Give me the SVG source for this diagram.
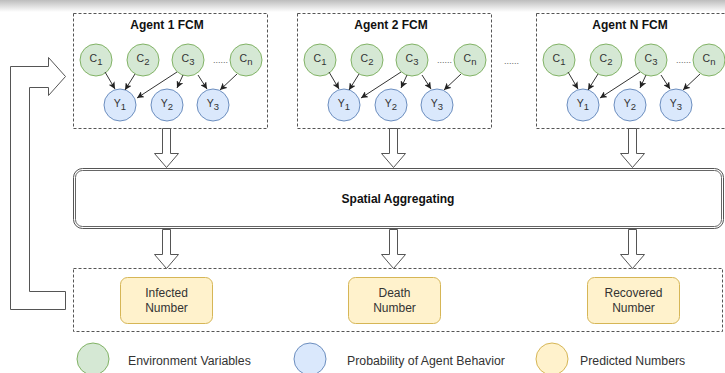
<svg xmlns="http://www.w3.org/2000/svg" width="725" height="373" viewBox="0 0 725 373">
  <defs>
    <linearGradient id="topShade" x1="0" y1="0" x2="0" y2="1">
      <stop offset="0" stop-color="#bdbdbd"/>
      <stop offset="1" stop-color="#ffffff"/>
    </linearGradient>
    <marker id="ah" viewBox="0 0 8 8" refX="8" refY="4" markerWidth="7" markerHeight="7" markerUnits="userSpaceOnUse" orient="auto">
      <path d="M0,0 L8,4 L0,8 L2,4 Z" fill="#222"/>
    </marker>
    <style>
      .dash { fill: none; stroke: #555; stroke-width: 1; stroke-dasharray: 3 2; }
      .env { fill: #d5e8d4; stroke: #82b366; stroke-width: 1; }
      .prob { fill: #dae8fc; stroke: #6c8ebf; stroke-width: 1; }
      .pred { fill: #fff2cc; stroke: #d6b656; stroke-width: 1; }
      .lbl { font-family: "Liberation Sans", Arial, sans-serif; font-size: 10.5px; fill: #333; text-anchor: middle; }
      .sub { font-size: 9.5px; }
      .title { font-family: "Liberation Sans", Arial, sans-serif; font-size: 12px; font-weight: bold; fill: #111; text-anchor: middle; }
      .txt { font-family: "Liberation Sans", Arial, sans-serif; font-size: 12px; fill: #333; text-anchor: middle; }
      .leg { font-family: "Liberation Sans", Arial, sans-serif; font-size: 12.3px; fill: #333; }
      .dots { font-family: "Liberation Sans", Arial, sans-serif; font-size: 9px; fill: #666; }
      .link { fill: none; stroke: #333; stroke-width: 1; marker-end: url(#ah); }
      .block { fill: #fff; stroke: #555; stroke-width: 1; }
    </style>
  </defs>

  <rect x="0" y="0" width="725" height="373" fill="#fff"/>
  <rect x="0" y="0" width="725" height="12" fill="url(#topShade)"/>

  <!-- Agent containers -->
  <g id="agent1">
    <rect class="dash" x="73.5" y="13.5" width="194" height="115"/>
    <text class="title" x="167" y="29">Agent 1 FCM</text>
    <g id="a1-c1"><circle class="env" cx="96" cy="60" r="16"/><text class="lbl" x="96" y="62">C<tspan class="sub" dy="3">1</tspan></text></g>
    <g id="a1-c2"><circle class="env" cx="143" cy="60" r="16"/><text class="lbl" x="143" y="62">C<tspan class="sub" dy="3">2</tspan></text></g>
    <g id="a1-c3"><circle class="env" cx="188" cy="60" r="16"/><text class="lbl" x="188" y="62">C<tspan class="sub" dy="3">3</tspan></text></g>
    <text class="dots" x="213" y="63">......</text>
    <g id="a1-cn"><circle class="env" cx="246" cy="60" r="16"/><text class="lbl" x="246" y="62">C<tspan class="sub" dy="3">n</tspan></text></g>
    <g id="a1-y1"><circle class="prob" cx="120" cy="105" r="16"/><text class="lbl" x="120" y="107">Y<tspan class="sub" dy="3">1</tspan></text></g>
    <g id="a1-y2"><circle class="prob" cx="167" cy="105" r="16"/><text class="lbl" x="167" y="107">Y<tspan class="sub" dy="3">2</tspan></text></g>
    <g id="a1-y3"><circle class="prob" cx="213" cy="105" r="16"/><text class="lbl" x="213" y="107">Y<tspan class="sub" dy="3">3</tspan></text></g>
  </g>

  <g id="agent2" transform="translate(224,0)">
    <rect class="dash" x="73.5" y="13.5" width="194" height="115"/>
    <text class="title" x="167" y="29">Agent 2 FCM</text>
    <g id="a2-c1"><circle class="env" cx="96" cy="60" r="16"/><text class="lbl" x="96" y="62">C<tspan class="sub" dy="3">1</tspan></text></g>
    <g id="a2-c2"><circle class="env" cx="143" cy="60" r="16"/><text class="lbl" x="143" y="62">C<tspan class="sub" dy="3">2</tspan></text></g>
    <g id="a2-c3"><circle class="env" cx="188" cy="60" r="16"/><text class="lbl" x="188" y="62">C<tspan class="sub" dy="3">3</tspan></text></g>
    <text class="dots" x="213" y="63">......</text>
    <g id="a2-cn"><circle class="env" cx="246" cy="60" r="16"/><text class="lbl" x="246" y="62">C<tspan class="sub" dy="3">n</tspan></text></g>
    <g id="a2-y1"><circle class="prob" cx="120" cy="105" r="16"/><text class="lbl" x="120" y="107">Y<tspan class="sub" dy="3">1</tspan></text></g>
    <g id="a2-y2"><circle class="prob" cx="167" cy="105" r="16"/><text class="lbl" x="167" y="107">Y<tspan class="sub" dy="3">2</tspan></text></g>
    <g id="a2-y3"><circle class="prob" cx="213" cy="105" r="16"/><text class="lbl" x="213" y="107">Y<tspan class="sub" dy="3">3</tspan></text></g>
  </g>

  <text class="dots" x="504" y="64">......</text>

  <g id="agentN" transform="translate(463,0)">
    <rect class="dash" x="73.5" y="13.5" width="194" height="115"/>
    <text class="title" x="167" y="29">Agent N FCM</text>
    <g id="aN-c1"><circle class="env" cx="96" cy="60" r="16"/><text class="lbl" x="96" y="62">C<tspan class="sub" dy="3">1</tspan></text></g>
    <g id="aN-c2"><circle class="env" cx="143" cy="60" r="16"/><text class="lbl" x="143" y="62">C<tspan class="sub" dy="3">2</tspan></text></g>
    <g id="aN-c3"><circle class="env" cx="188" cy="60" r="16"/><text class="lbl" x="188" y="62">C<tspan class="sub" dy="3">3</tspan></text></g>
    <text class="dots" x="213" y="63">......</text>
    <g id="aN-cn"><circle class="env" cx="246" cy="60" r="16"/><text class="lbl" x="246" y="62">C<tspan class="sub" dy="3">n</tspan></text></g>
    <g id="aN-y1"><circle class="prob" cx="120" cy="105" r="16"/><text class="lbl" x="120" y="107">Y<tspan class="sub" dy="3">1</tspan></text></g>
    <g id="aN-y2"><circle class="prob" cx="167" cy="105" r="16"/><text class="lbl" x="167" y="107">Y<tspan class="sub" dy="3">2</tspan></text></g>
    <g id="aN-y3"><circle class="prob" cx="213" cy="105" r="16"/><text class="lbl" x="213" y="107">Y<tspan class="sub" dy="3">3</tspan></text></g>
  </g>

  <!-- Spatial aggregating -->
  <g id="spatial">
    <rect x="73.5" y="168.5" width="650" height="60" rx="9" fill="#fff" stroke="#555" stroke-width="1"/>
    <rect x="75.5" y="170.5" width="646" height="56" rx="7" fill="#fff" stroke="#666" stroke-width="1"/>
    <text class="title" x="398" y="203">Spatial Aggregating</text>
  </g>

  <!-- Output container -->
  <g id="outputs">
    <rect class="dash" x="73.5" y="268.5" width="649" height="63"/>
  </g>
  <g id="infected">
    <rect class="pred" x="120.5" y="277.5" width="92" height="46" rx="7"/>
    <text class="txt" x="166.5" y="297">Infected</text>
    <text class="txt" x="166.5" y="312">Number</text>
  </g>
  <g id="death">
    <rect class="pred" x="348.5" y="277.5" width="92" height="46" rx="7"/>
    <text class="txt" x="394.5" y="297">Death</text>
    <text class="txt" x="394.5" y="312">Number</text>
  </g>
  <g id="recovered">
    <rect class="pred" x="587.5" y="277.5" width="92" height="46" rx="7"/>
    <text class="txt" x="633.5" y="297">Recovered</text>
    <text class="txt" x="633.5" y="312">Number</text>
  </g>

  <!-- Connectors -->
  <g id="connectors">
    <g id="links-a1">
      <path class="link" d="M105,72 L115,89"/>
      <path class="link" d="M135,74 L125,90"/>
      <path class="link" d="M177,72 L137,98"/>
      <path class="link" d="M183,75 L177,88"/>
      <path class="link" d="M198,75 L207,89"/>
      <path class="link" d="M237,74 L220,90"/>
    </g>
    <g id="links-a2" transform="translate(224,0)">
      <path class="link" d="M105,72 L115,89"/>
      <path class="link" d="M135,74 L125,90"/>
      <path class="link" d="M177,72 L137,98"/>
      <path class="link" d="M183,75 L177,88"/>
      <path class="link" d="M198,75 L207,89"/>
      <path class="link" d="M237,74 L220,90"/>
    </g>
    <g id="links-aN" transform="translate(463,0)">
      <path class="link" d="M105,72 L115,89"/>
      <path class="link" d="M135,74 L125,90"/>
      <path class="link" d="M177,72 L137,98"/>
      <path class="link" d="M183,75 L177,88"/>
      <path class="link" d="M198,75 L207,89"/>
      <path class="link" d="M237,74 L220,90"/>
    </g>
    <!-- block arrows: agents to spatial aggregating -->
    <path class="block" d="M162.5,128.5 L170.5,128.5 L170.5,153.5 L178.5,153.5 L166.5,167.5 L154.5,153.5 L162.5,153.5 Z"/>
    <path class="block" d="M389.5,128.5 L397.5,128.5 L397.5,153.5 L405.5,153.5 L393.5,167.5 L381.5,153.5 L389.5,153.5 Z"/>
    <path class="block" d="M628.5,128.5 L636.5,128.5 L636.5,153.5 L644.5,153.5 L632.5,167.5 L620.5,153.5 L628.5,153.5 Z"/>
    <!-- block arrows: spatial aggregating to outputs -->
    <path class="block" d="M162.5,229.5 L170.5,229.5 L170.5,254.5 L178.5,254.5 L166.5,268.5 L154.5,254.5 L162.5,254.5 Z"/>
    <path class="block" d="M389.5,229.5 L397.5,229.5 L397.5,254.5 L405.5,254.5 L393.5,268.5 L381.5,254.5 L389.5,254.5 Z"/>
    <path class="block" d="M628.5,229.5 L636.5,229.5 L636.5,254.5 L644.5,254.5 L632.5,268.5 L620.5,254.5 L628.5,254.5 Z"/>
    <!-- feedback arrow -->
    <path class="block" d="M65.5,291.5 L29.5,291.5 L29.5,87.5 L48.5,87.5 L48.5,95.5 L65.5,76.5 L48.5,57.5 L48.5,66.5 L10.5,66.5 L10.5,309.5 L65.5,309.5 Z"/>
  </g>

  <!-- Legend -->
  <g id="legend-env">
    <circle class="env" cx="93" cy="359" r="16"/>
    <text class="leg" x="128" y="365">Environment Variables</text>
  </g>
  <g id="legend-prob">
    <circle class="prob" cx="310" cy="359" r="16"/>
    <text class="leg" x="347" y="365">Probability of Agent Behavior</text>
  </g>
  <g id="legend-pred">
    <circle class="pred" cx="552" cy="359" r="16"/>
    <text class="leg" x="580" y="365">Predicted Numbers</text>
  </g>
</svg>
